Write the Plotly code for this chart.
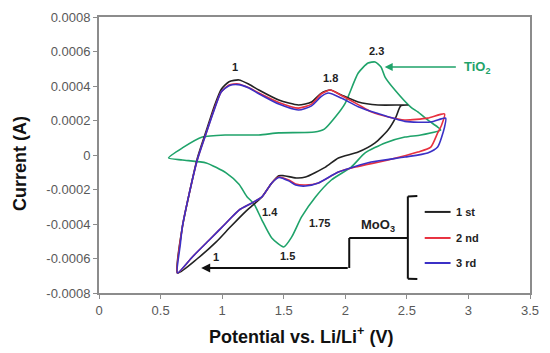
import plotly.graph_objects as go

# ---------------- data (potential V, current A) ----------------
cycle1_v = [0.637, 0.677, 0.734, 0.798, 0.871, 0.935, 0.992, 1.056, 1.137, 1.218, 1.298, 1.46, 1.62, 1.726,
            1.806, 1.879, 1.968, 2.105, 2.266, 2.45, 2.508, 2.45, 2.411, 2.347, 2.242, 2.105, 1.944, 1.839,
            1.677, 1.60, 1.50, 1.46, 1.403, 1.323, 1.242, 1.194, 1.056, 0.952, 0.80, 0.637]
cycle1_i = [-6.84e-4, -4.17e-4, -2.20e-4, -0.20e-4, 1.40e-4, 2.80e-4, 3.80e-4, 4.25e-4, 4.35e-4, 4.10e-4,
            3.77e-4, 3.19e-4, 2.90e-4, 3.07e-4, 3.59e-4, 3.77e-4, 3.48e-4, 3.07e-4, 2.90e-4, 2.90e-4, 2.90e-4,
            2.85e-4, 2.20e-4, 1.45e-4, 0.70e-4, 0.17e-4, -0.17e-4, -0.70e-4, -1.28e-4, -1.33e-4, -1.20e-4,
            -1.20e-4, -1.62e-4, -2.43e-4, -2.95e-4, -3.25e-4, -4.25e-4, -5.04e-4, -6.00e-4, -6.84e-4]

cycle2_v = [0.637, 0.677, 0.734, 0.798, 0.871, 0.935, 0.992, 1.056, 1.13, 1.218, 1.298, 1.46, 1.62, 1.726,
            1.806, 1.879, 1.968, 2.105, 2.21, 2.35, 2.484, 2.669, 2.806, 2.78, 2.75, 2.694, 2.589, 2.347,
            2.081, 1.944, 1.782, 1.677, 1.597, 1.54, 1.46, 1.403, 1.323, 1.242, 1.137, 1.032, 0.895, 0.758, 0.637]
cycle2_i = [-6.84e-4, -4.17e-4, -2.20e-4, -0.29e-4, 1.28e-4, 2.65e-4, 3.65e-4, 4.06e-4, 4.12e-4, 3.90e-4,
            3.60e-4, 3.05e-4, 2.72e-4, 2.95e-4, 3.55e-4, 3.77e-4, 3.45e-4, 2.92e-4, 2.50e-4, 2.20e-4, 2.03e-4,
            2.14e-4, 2.38e-4, 1.70e-4, 1.28e-4, 0.46e-4, 0.17e-4, -0.29e-4, -0.70e-4, -0.99e-4, -1.62e-4,
            -1.74e-4, -1.68e-4, -1.45e-4, -1.28e-4, -1.62e-4, -2.43e-4, -2.78e-4, -3.19e-4, -3.94e-4, -4.93e-4,
            -5.91e-4, -6.84e-4]

cycle3_v = [0.637, 0.66, 0.677, 0.734, 0.798, 0.871, 0.935, 0.992, 1.056, 1.13, 1.218, 1.298, 1.46, 1.62,
            1.726, 1.806, 1.863, 1.968, 2.105, 2.266, 2.484, 2.694, 2.815, 2.806, 2.75, 2.669, 2.484, 2.21,
            1.944, 1.782, 1.677, 1.597, 1.54, 1.46, 1.403, 1.323, 1.242, 1.137, 1.032, 0.895, 0.758, 0.637]
cycle3_i = [-6.84e-4, -5.20e-4, -4.17e-4, -2.20e-4, -0.29e-4, 1.28e-4, 2.60e-4, 3.65e-4, 4.02e-4, 4.08e-4,
            3.88e-4, 3.55e-4, 2.95e-4, 2.61e-4, 2.85e-4, 3.40e-4, 3.59e-4, 3.30e-4, 2.80e-4, 2.40e-4, 1.95e-4,
            1.91e-4, 2.14e-4, 1.62e-4, 0.46e-4, 0.12e-4, -0.12e-4, -0.41e-4, -0.99e-4, -1.62e-4, -1.80e-4,
            -1.74e-4, -1.50e-4, -1.30e-4, -1.62e-4, -2.43e-4, -2.78e-4, -3.19e-4, -3.94e-4, -4.93e-4, -5.91e-4,
            -6.84e-4]

tio2_v = [0.565, 0.677, 0.839, 1.032, 1.298, 1.46, 1.75, 1.83, 1.919, 2.0, 2.105, 2.185, 2.242, 2.29, 2.323,
          2.403, 2.532, 2.589, 2.669, 2.75, 2.774, 2.613, 2.484, 2.323, 2.161, 2.048, 1.887, 1.758, 1.645,
          1.565, 1.50, 1.403, 1.323, 1.26, 1.20, 1.137, 1.032, 0.871, 0.677, 0.565]
tio2_i = [-0.17e-4, 0.41e-4, 1.04e-4, 1.16e-4, 1.16e-4, 1.28e-4, 1.33e-4, 1.50e-4, 2.20e-4, 3.01e-4, 4.75e-4,
          5.33e-4, 5.39e-4, 5.10e-4, 4.52e-4, 3.77e-4, 2.78e-4, 2.50e-4, 2.03e-4, 1.62e-4, 1.45e-4, 1.16e-4,
          1.04e-4, 0.70e-4, 0.12e-4, -0.70e-4, -1.45e-4, -2.43e-4, -3.59e-4, -4.75e-4, -5.33e-4, -4.81e-4,
          -3.77e-4, -2.85e-4, -2.40e-4, -1.70e-4, -1.04e-4, -0.46e-4, -0.29e-4, -0.17e-4]

x_tick_vals = [0, 0.5, 1, 1.5, 2, 2.5, 3, 3.5]
x_tick_text = ["0", "0.5", "1", "1.5", "2", "2.5", "3", "3.5"]
y_tick_vals = [-0.0008, -0.0006, -0.0004, -0.0002, 0, 0.0002, 0.0004, 0.0006, 0.0008]
y_tick_text = ["-0.0008", "-0.0006", "-0.0004", "-0.0002", "0", "0.0002", "0.0004", "0.0006", "0.0008"]

legend_labels = ["1 st", "2 nd", "3 rd"]

BLACK = "#222222"
RED = "#e8313f"
BLUE = "#3b30c6"
GREEN = "#1fa36a"
FONT = "Arial, Liberation Sans, sans-serif"

fig = go.Figure()
for v, i, c in [(tio2_v, tio2_i, GREEN), (cycle1_v, cycle1_i, BLACK),
                (cycle2_v, cycle2_i, RED), (cycle3_v, cycle3_i, BLUE)]:
    fig.add_trace(go.Scatter(x=v, y=i, mode="lines", line=dict(color=c, width=1.6, shape="spline", smoothing=0.6),
                             showlegend=False, hoverinfo="skip"))

# peak labels
peak_labels = [(1.105, 5.10e-4, "1"), (1.879, 4.46e-4, "1.8"), (2.25, 6.03e-4, "2.3"),
               (1.387, -3.30e-4, "1.4"), (1.532, -5.86e-4, "1.5"), (1.79, -3.94e-4, "1.75"),
               (0.952, -5.91e-4, "1")]
for x, y, t in peak_labels:
    fig.add_annotation(x=x, y=y, text="<b>%s</b>" % t, showarrow=False,
                       font=dict(family=FONT, size=11, color=BLACK))

# TiO2 label + arrow
fig.add_annotation(x=3.07, y=5.05e-4, text="<b>TiO<sub>2</sub></b>", showarrow=False,
                   font=dict(family=FONT, size=13, color=GREEN))
fig.add_annotation(x=2.32, y=5.1e-4, ax=2.91, ay=5.1e-4, axref="x", ayref="y", text="",
                   showarrow=True, arrowhead=2, arrowsize=1, arrowwidth=1.6, arrowcolor=GREEN)

# MoO3 connector and arrow
fig.add_annotation(x=0.83, y=-6.55e-4, ax=2.032, ay=-6.55e-4, axref="x", ayref="y", text="",
                   showarrow=True, arrowhead=2, arrowsize=1, arrowwidth=1.8, arrowcolor="#111111")
line_style = dict(color="#111111", width=2)
fig.add_shape(type="line", x0=2.032, x1=2.032, y0=-6.55e-4, y1=-4.81e-4, line=line_style)
fig.add_shape(type="line", x0=2.032, x1=2.508, y0=-4.81e-4, y1=-4.81e-4, line=line_style)
fig.add_annotation(x=2.266, y=-4.06e-4, text="<b>MoO<sub>3</sub></b>", showarrow=False,
                   font=dict(family=FONT, size=13, color=BLACK))

# brace
fig.add_shape(type="line", x0=2.508, x1=2.508, y0=-2.40e-4, y1=-7.17e-4, line=line_style)
fig.add_shape(type="line", x0=2.508, x1=2.585, y0=-2.40e-4, y1=-2.38e-4, line=line_style)
fig.add_shape(type="line", x0=2.508, x1=2.585, y0=-7.17e-4, y1=-7.19e-4, line=line_style)

# legend entries
for (c, lab, y) in [(BLACK, legend_labels[0], -3.30e-4), (RED, legend_labels[1], -4.81e-4),
                    (BLUE, legend_labels[2], -6.26e-4)]:
    fig.add_shape(type="line", x0=2.645, x1=2.855, y0=y, y1=y, line=dict(color=c, width=2))
    fig.add_annotation(x=2.885, y=y, text="<b>%s</b>" % lab, showarrow=False, xanchor="left",
                       font=dict(family=FONT, size=11, color=BLACK))

# axis titles (page has an 8px body margin; plot area spans x 99..530, y 17..293 in the window)
fig.add_annotation(xref="paper", yref="paper", x=(301 - 99) / 431, y=(293 - 335) / 276,
                   xanchor="center", yanchor="middle",
                   text="<b>Potential vs. Li/Li<sup>+</sup> (V)</b>", showarrow=False,
                   font=dict(family=FONT, size=18, color="#111111"))
fig.add_annotation(xref="paper", yref="paper", x=(20 - 99) / 431, y=(293 - 164) / 276,
                   xanchor="center", yanchor="middle",
                   text="<b>Current (A)</b>", showarrow=False, textangle=-90,
                   font=dict(family=FONT, size=18, color="#111111"))

axis_common = dict(showgrid=False, zeroline=False, showline=True, mirror=True, linecolor="#8c8c8c",
                   linewidth=2, ticks="outside", ticklen=4, tickwidth=1, tickcolor="#8c8c8c",
                   tickfont=dict(family=FONT, size=13, color="#595959"), automargin=False)
fig.update_xaxes(range=[0, 3.5], tickvals=x_tick_vals, ticktext=x_tick_text, **axis_common)
fig.update_yaxes(range=[-0.0008, 0.0008], tickvals=y_tick_vals, ticktext=y_tick_text, **axis_common)

fig.update_layout(width=542, height=345, margin=dict(l=91, r=20, t=9, b=60),
                  plot_bgcolor="white", paper_bgcolor="white", showlegend=False)

fig.write_html("out.html")
